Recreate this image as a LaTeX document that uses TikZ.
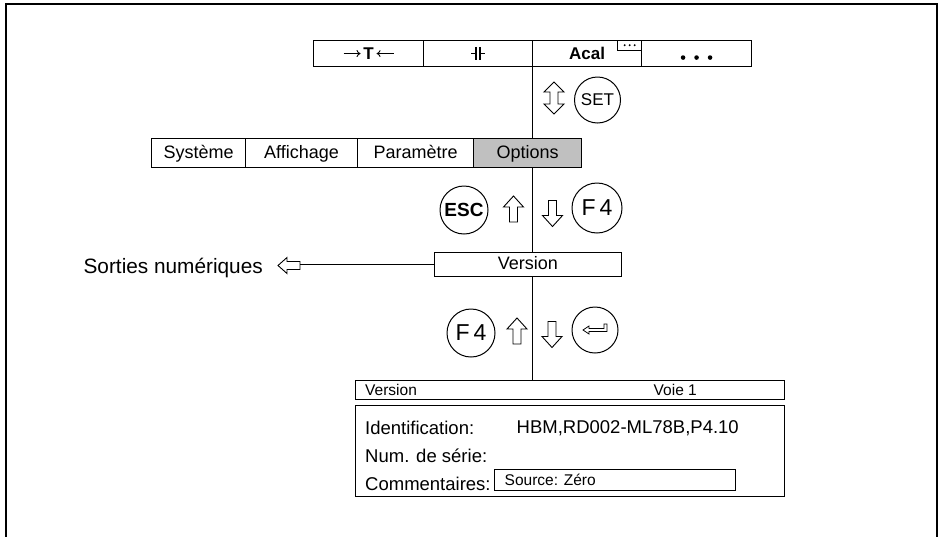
\documentclass[tikz,border=0pt]{standalone}
\usepackage{fontspec}
\setmainfont{Liberation Sans}
\usetikzlibrary{positioning, calc, arrows.meta}
\definecolor{optgray}{HTML}{C0C0C0}

\begin{document}
\begin{tikzpicture}[x=1pt, y=-1pt,
  cell/.style={draw, line width=1.1pt, inner sep=0pt, anchor=north west, text height=14pt, text depth=3pt, font=\fontsize{18}{20}\selectfont},
  key/.style={draw, circle, line width=1pt, inner sep=0pt},
  wire/.style={line width=1pt},
  txt/.style={anchor=west, inner sep=0pt, font=\fontsize{18.5}{20}\selectfont},
  smalltxt/.style={anchor=west, inner sep=0pt, font=\fontsize{15.5}{17}\selectfont},
  uparr/.pic={\draw[line width=0.9pt, line join=miter] (0,-13) -- (10,-2) -- (4,-2) -- (4,13) -- (-4,13) -- (-4,-2) -- (-10,-2) -- cycle;},
  downarr/.pic={\draw[line width=0.9pt, line join=miter] (0,13) -- (10,2) -- (4,2) -- (4,-13) -- (-4,-13) -- (-4,2) -- (-10,2) -- cycle;},
  updownarr/.pic={\draw[line width=0.9pt, line join=miter] (0,-16) -- (10,-6) -- (4,-6) -- (4,6) -- (10,6) -- (0,16) -- (-10,6) -- (-4,6) -- (-4,-6) -- (-10,-6) -- cycle;},
  leftarr/.pic={\draw[line width=0.9pt, line join=miter] (-11,0) -- (-2,-8) -- (-2,-4) -- (11,-4) -- (11,4) -- (-2,4) -- (-2,8) -- cycle;}
]
  \useasboundingbox (0,0) rectangle (942,536);
  % outer frame
  \draw[line width=1.6pt] (6,545) -- (6,4) -- (937,4) -- (937,545);

  % top bar
  \node[cell, minimum width=110, minimum height=26, font=\fontsize{17}{19}\selectfont\bfseries] (tare) at (313,40) {T};
  \node[cell, minimum width=109, minimum height=26] (zero) at (423,40) {};
  \node[cell, minimum width=109, minimum height=26, font=\fontsize{17}{19}\selectfont\bfseries] (acal) at (532,40) {Acal\hspace{4pt}};
  \node[cell, minimum width=110, minimum height=26] (more) at (641,40) {};
  \draw[line width=0.9pt, -{To[length=4pt, width=7pt]}] ([xshift=-25pt]tare.center) -- ([xshift=-8pt]tare.center);
  \draw[line width=0.9pt, -{To[length=4pt, width=7pt]}] ([xshift=25pt]tare.center) -- ([xshift=8pt]tare.center);
  \draw[line width=1.2pt, shift={(zero.center)}] (-7,0) -- (-2,0) (-2,-6.5) -- (-2,6.5) (2,-6.5) -- (2,6.5) (2,0) -- (7,0);
  \node[draw, line width=0.9pt, anchor=north east, minimum width=24, minimum height=9.5, inner sep=0pt] (dotbox) at (acal.north east) {};
  \foreach \dx in {-5,0,5}
    \fill ([xshift=\dx pt]dotbox.center) circle (1.1);
  \foreach \dx in {-13.5,0,13.5}
    \fill ([xshift=\dx pt, yshift=-4pt]more.center) circle (2.3);

  % SET
  \pic at (554,98) {updownarr};
  \node[key, minimum size=46, font=\fontsize{17}{19}\selectfont] (setkey) at (597.5,100) {SET};

  % menu bar
  \node[cell, minimum width=94, minimum height=29] (sys) at (151,138) {Système};
  \node[cell, minimum width=112, minimum height=29] (disp) at (245,138) {Affichage};
  \node[cell, minimum width=116, minimum height=29] (param) at (357,138) {Paramètre};
  \node[cell, minimum width=108, minimum height=29, fill=optgray] (opt) at (473,138) {Options};
  \draw[wire] (acal.south west) -- (acal.south west |- opt.north);

  % ESC / F4
  \node[key, minimum size=48, font=\fontsize{19}{21}\selectfont\bfseries] (esckey) at (464,210) {ESC};
  \pic at (513.5,209) {uparr};
  \pic at (552.5,213.5) {downarr};
  \node[key, minimum size=50, font=\fontsize{23}{25}\selectfont] (fkeyA) at (597,208) {F\,4};

  % Version
  \node[cell, minimum width=187.5, minimum height=23.5] (version) at (433.5,252) {Version};
  \draw[wire] (opt.south -| acal.south west) -- (version.north -| acal.south west);
  \pic at (289,265.5) {leftarr};
  \coordinate (outtip) at (300,265.5);
  \draw[wire] (version.west) -- (version.west -| outtip);
  \node[anchor=east, inner sep=0pt, font=\fontsize{20.8}{22}\selectfont] (sorties) at (263,268) {Sorties numériques};

  % F4 / enter
  \node[key, minimum size=48, font=\fontsize{23}{25}\selectfont] (fkeyB) at (471,333) {F\,4};
  \pic at (517,331) {uparr};
  \pic at (552,334.5) {downarr};
  \node[key, minimum size=46] (enterkey) at (595,330) {};
  \draw[line width=0.8pt, line join=miter, shift={(enterkey.center)}] (-12,0) -- (-6,-4) -- (-6,-1.5) -- (9,-1.5) -- (9,-6) -- (12,-6) -- (12,1.5) -- (-6,1.5) -- (-6,4) -- cycle;

  % Version panel
  \node[cell, minimum width=429, minimum height=19.5] (head) at (355,379.5) {};
  \draw[wire] (version.south -| acal.south west) -- (head.north -| acal.south west);
  \node[smalltxt] (headver) at (365,389.5) {Version};
  \node[smalltxt] (headch) at (653.5,389.5) {Voie 1};
  \node[cell, minimum width=429, minimum height=91] (body) at (355,405) {};
  \node[txt] (ident) at (365,428) {Identification:};
  \node[txt] (idval) at (516.5,428) {HBM,RD002-ML78B,P4.10};
  \node[txt] (serial) at (365,456) {Num. de série:};
  \node[txt] (comm) at (365,484) {Commentaires:};
  \node[draw, line width=0.9pt, anchor=north west, minimum width=240.5, minimum height=21, inner sep=0pt] (src) at (494,469) {};
  \node[smalltxt] (srctxt) at (504.5,480) {Source: Zéro};
\end{tikzpicture}
\end{document}
